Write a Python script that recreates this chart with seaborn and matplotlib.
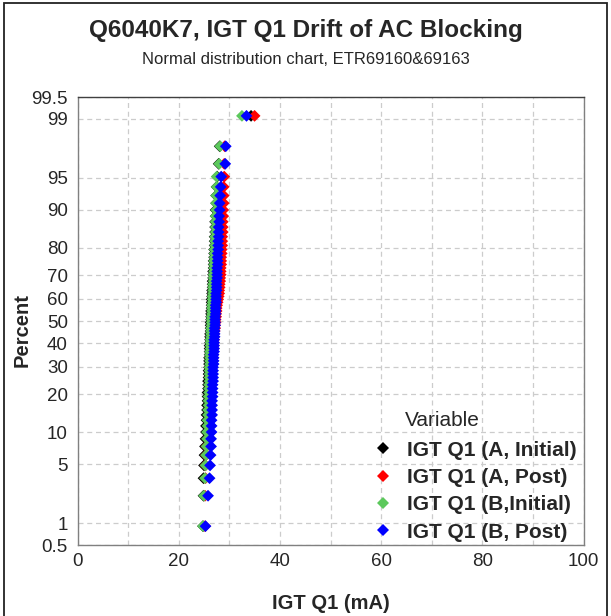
import numpy as np
import pandas as pd
import matplotlib
matplotlib.use('Agg')
import matplotlib.pyplot as plt
import seaborn as sns
from statistics import NormalDist
from matplotlib.patches import Rectangle
from matplotlib.font_manager import FontProperties
from matplotlib.ticker import FixedLocator, NullLocator

# IGT Q1 readings (mA), sorted
a_initial = [24.8, 24.9, 24.9, 25.0, 25.1, 25.2,
             25.3, 25.4, 25.4, 25.5, 25.5, 25.6, 25.6, 25.7,
             25.7, 25.7, 25.8, 25.8, 25.8, 25.9, 25.9, 25.9, 26.0,
             26.0, 26.0, 26.0, 26.1, 26.1, 26.1, 26.1, 26.2, 26.2, 26.2, 26.2,
             26.3, 26.3, 26.3, 26.3, 26.4, 26.4, 26.4, 26.4, 26.5, 26.5, 26.5, 26.5,
             26.6, 26.6, 26.6, 26.7, 26.7, 26.7, 26.8,
             26.8, 26.8, 26.9, 26.9, 26.9, 27.0, 27.0, 27.0,
             27.1, 27.1, 27.1, 27.2, 27.2, 27.2, 27.3, 27.3,
             27.4, 27.4, 27.5, 27.6,
             27.9, 28.1, 34.3]
a_post = [25.2, 25.2, 25.3, 25.3, 25.4, 25.5,
          25.7, 25.8, 25.9, 26.0, 26.0, 26.1, 26.1, 26.2,
          26.2, 26.3, 26.3, 26.4, 26.4, 26.5, 26.5, 26.6, 26.6,
          26.7, 26.7, 26.8, 26.8, 26.8, 26.9, 26.9, 26.9, 27.0, 27.0, 27.0,
          27.1, 27.2, 27.2, 27.3, 27.3, 27.4, 27.4, 27.5, 27.5, 27.6, 27.7, 27.8,
          27.9, 28.0, 28.0, 28.1, 28.1, 28.2, 28.2,
          28.3, 28.3, 28.3, 28.4, 28.4, 28.4, 28.5, 28.5,
          28.6, 28.6, 28.6, 28.7, 28.7, 28.7, 28.8, 28.8,
          28.9, 28.9, 28.9, 29.0,
          29.0, 29.1, 35.0]
b_initial = [24.8, 25.0, 25.2, 25.3, 25.4, 25.5,
             25.6, 25.6, 25.7, 25.7, 25.8, 25.8, 25.9, 25.9,
             25.9, 26.0, 26.0, 26.0, 26.1, 26.1, 26.1, 26.2, 26.2,
             26.1, 26.1, 26.2, 26.2, 26.2, 26.3, 26.3, 26.3, 26.3, 26.4, 26.4,
             26.4, 26.4, 26.5, 26.5, 26.5, 26.5, 26.6, 26.6, 26.6, 26.6, 26.7, 26.7,
             26.7, 26.8, 26.8, 26.8, 26.8, 26.9, 26.9,
             26.9, 27.0, 27.0, 27.0, 27.0, 27.1, 27.1, 27.1,
             27.2, 27.2, 27.2, 27.3, 27.3, 27.3, 27.3, 27.4,
             27.4, 27.4, 27.5, 27.5,
             28.0, 28.2, 32.5]
b_post = [25.3, 25.8, 26.1, 26.2, 26.3, 26.4,
          26.4, 26.5, 26.5, 26.5, 26.6, 26.6, 26.6, 26.6,
          26.7, 26.7, 26.7, 26.7, 26.8, 26.8, 26.8, 26.8, 26.8,
          26.9, 26.9, 26.9, 26.9, 27.0, 27.0, 27.0, 27.0, 27.0, 27.1, 27.1,
          27.1, 27.1, 27.2, 27.2, 27.2, 27.2, 27.3, 27.3, 27.3, 27.3, 27.4, 27.4,
          27.4, 27.4, 27.5, 27.5, 27.5, 27.5, 27.6,
          27.6, 27.6, 27.6, 27.7, 27.7, 27.7, 27.7, 27.8,
          27.8, 27.8, 27.9, 27.9, 27.9, 28.0, 28.0, 28.1,
          28.1, 28.2, 28.3, 28.4,
          29.2, 29.3, 33.4]

series_names = ['IGT Q1 (A, Initial)', 'IGT Q1 (A, Post)', 'IGT Q1 (B,Initial)', 'IGT Q1 (B, Post)']
series_values = [a_initial, a_post, b_initial, b_post]
colors = ['#000000', '#ff0000', '#5cc85c', '#0000ff']

y_ticks = [0.5, 1, 5, 10, 20, 30, 40, 50, 60, 70, 80, 90, 95, 99, 99.5]
y_labels = ['0.5', '1', '5', '10', '20', '30', '40', '50', '60', '70', '80', '90', '95', '99', '99.5']

# long-form table, percent from median ranks (Benard)
frames = []
for name, vals in zip(series_names, series_values):
    v = np.sort(np.array(vals))
    n = len(v)
    rank = np.arange(1, n + 1)
    frames.append(pd.DataFrame({'IGT': v,
                                'Percent': (rank - 0.3) / (n + 0.4) * 100,
                                'Variable': name}))
df = pd.concat(frames, ignore_index=True)

# normal probability scale
nd = NormalDist()
_ppf = np.vectorize(nd.inv_cdf, otypes=[float])
_cdf = np.vectorize(nd.cdf, otypes=[float])

def to_z(p):
    p = np.clip(np.asarray(p, dtype=float) / 100.0, 1e-9, 1 - 1e-9)
    return _ppf(p)

def from_z(z):
    return _cdf(np.asarray(z, dtype=float)) * 100.0

sns.set_style('white')
plt.rcParams['font.family'] = ['Liberation Sans', 'DejaVu Sans']

fig = plt.figure(figsize=(6.11, 6.16), dpi=100)
ax = fig.add_axes([77.5 / 611, 71 / 616, 506 / 611, 448 / 616])

sns.scatterplot(data=df, x='IGT', y='Percent', hue='Variable',
                hue_order=series_names, palette=colors, marker='D',
                s=36, linewidth=0, ax=ax)

ax.set_yscale('function', functions=(to_z, from_z))
ax.set_ylim(0.5, 99.5)
ax.set_xlim(0, 100)
ax.yaxis.set_major_locator(FixedLocator(y_ticks))
ax.set_yticklabels(y_labels)
ax.yaxis.set_minor_locator(NullLocator())
ax.set_xticks(range(0, 101, 20))
ax.set_xticks(range(10, 100, 20), minor=True)

ax.xaxis.grid(True, which='both', ls=(0, (4, 3)), color='#cccccc', lw=0.9)
ax.yaxis.grid(True, which='major', ls=(0, (4, 3)), color='#cccccc', lw=0.9)
ax.set_axisbelow(True)

for side in ['left', 'bottom', 'right']:
    ax.spines[side].set_color('#808080')
ax.spines['top'].set_color('#404040')
for s in ax.spines.values():
    s.set_linewidth(1.0)

ax.tick_params(axis='y', which='major', direction='out', length=4, width=1,
               color='#808080', labelsize=13.5, pad=3)
ax.tick_params(axis='x', which='major', direction='inout', length=7, width=1,
               color='#808080', labelsize=13.5, pad=2)
ax.tick_params(axis='x', which='minor', direction='in', length=4, width=1,
               color='#b0b0b0')

ax.set_xlabel('IGT Q1 (mA)', fontsize=14.5, fontweight='bold')
ax.xaxis.set_label_coords(0.5, -0.13)
ax.xaxis.label.set_va('center')
ax.set_ylabel('Percent', fontsize=14.5, fontweight='bold')
ax.yaxis.set_label_coords(-0.11, 0.48)
ax.yaxis.label.set_va('center')

fig.text(0.5, 1 - 30 / 616, 'Q6040K7, IGT Q1 Drift of AC Blocking',
         ha='center', va='center', fontsize=17.5, fontweight='bold')
fig.text(0.5, 1 - 60 / 616, 'Normal distribution chart, ETR69160&69163',
         ha='center', va='center', fontsize=12)

bold = FontProperties(family=['Liberation Sans', 'DejaVu Sans'], weight='bold', size=15)
handles, labels = ax.get_legend_handles_labels()
leg = ax.legend(handles, labels, loc='lower right',
                bbox_to_anchor=(1.0 + 5 / 506, -8 / 448), frameon=False, prop=bold,
                handlelength=1.0, handletextpad=0.65,
                labelspacing=0.40, borderaxespad=0.15)
# legend heading sits over the label column
ax.text((405 - 77.5) / 506, (545 - 420) / 448, 'Variable', transform=ax.transAxes,
        ha='left', va='center', fontsize=15)

fig.patches.append(Rectangle((3.5 / 611, -0.05), (607 - 3.5) / 611, 1.05 - 3.5 / 616,
                             transform=fig.transFigure, fill=False,
                             ec='#222222', lw=1.3))

fig.savefig('out.png', dpi=100)
